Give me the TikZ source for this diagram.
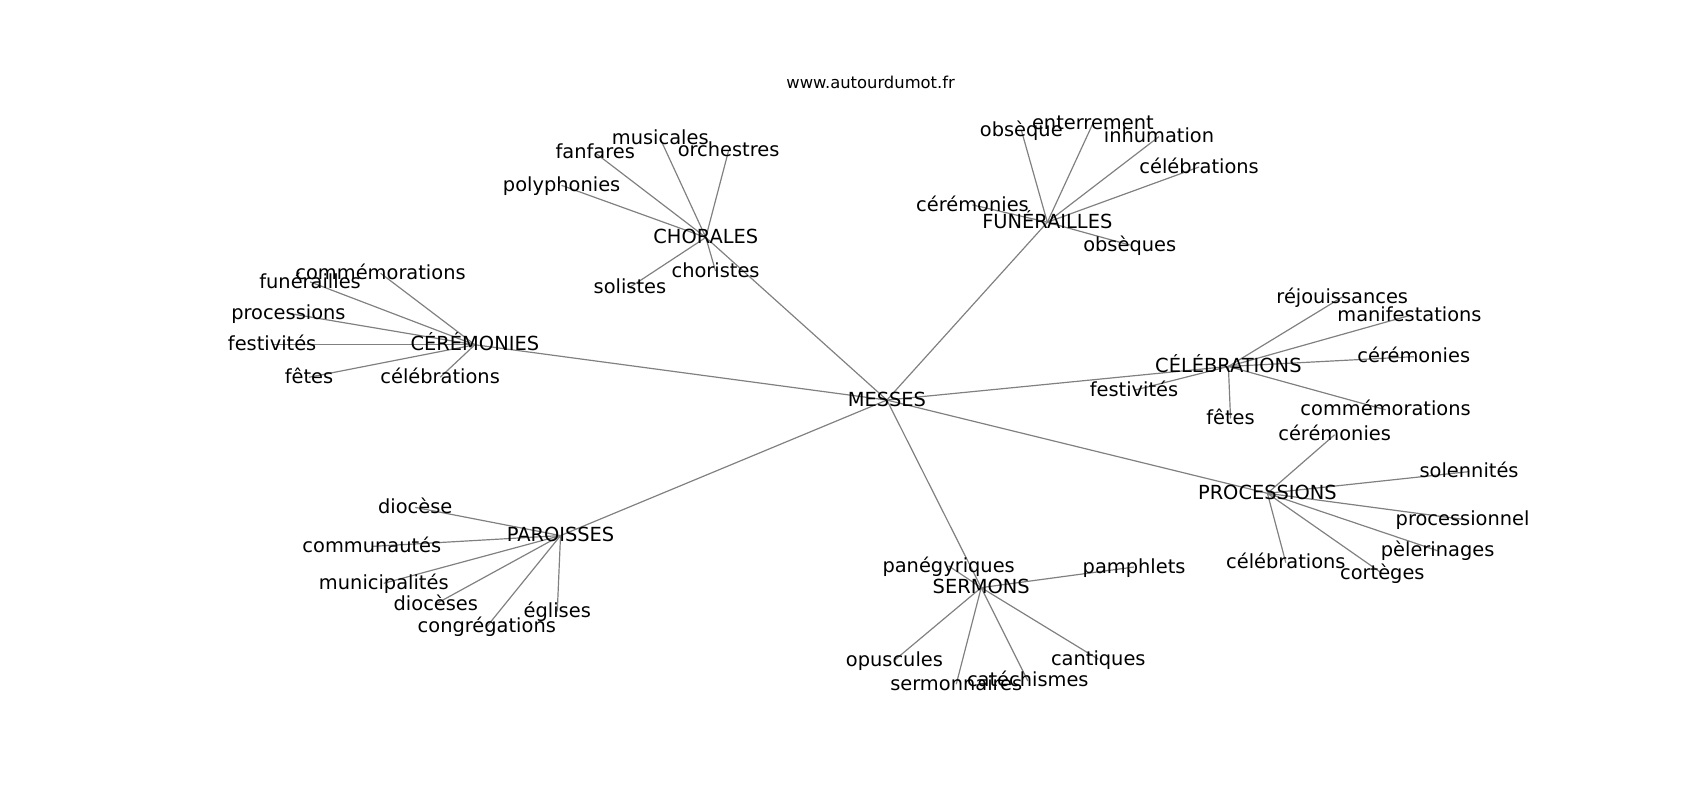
\documentclass[tikz,border=0pt]{standalone}
\usepackage{fontspec}
\setmainfont{DejaVu Sans}
\usetikzlibrary{backgrounds}
\begin{document}
\begin{tikzpicture}[x=1pt,y=-1pt,
  lbl/.style={inner sep=0pt, text height=1.22em, text depth=0.09em, font=\fontsize{17.9}{20}\selectfont, anchor=center},
  ttl/.style={inner sep=0pt, text height=1.15em, text depth=0.09em, font=\fontsize{15.1}{18}\selectfont},
  link/.style={draw=gray, line width=1.1pt}]
\useasboundingbox (0,0) rectangle (1568,737.9);
\node[ttl] (title) at (803,76) {www.autourdumot.fr};
% hubs
\node[lbl] (mes) at (818,369) {MESSES};
\node[lbl] (cho) at (651,219) {CHORALES};
\node[lbl] (fun) at (966,205) {FUNÉRAILLES};
\node[lbl] (cer) at (438,318) {CÉRÉMONIES};
\node[lbl] (cel) at (1133,338) {CÉLÉBRATIONS};
\node[lbl] (par) at (517,494) {PAROISSES};
\node[lbl] (ser) at (905,542) {SERMONS};
\node[lbl] (pro) at (1169,455) {PROCESSIONS};
% chorales
\node[lbl] (cho1) at (609,128) {musicales};
\node[lbl] (cho2) at (549,141) {fanfares};
\node[lbl] (cho3) at (672,139) {orchestres};
\node[lbl] (cho4) at (518,171) {polyphonies};
\node[lbl] (cho5) at (581,265) {solistes};
\node[lbl] (cho6) at (660,250) {choristes};
% funerailles
\node[lbl] (fun1) at (942,120) {obsèque};
\node[lbl] (fun2) at (1008,114) {enterrement};
\node[lbl] (fun3) at (1069,126) {inhumation};
\node[lbl] (fun4) at (1106,154) {célébrations};
\node[lbl] (fun5) at (897,189) {cérémonies};
\node[lbl] (fun6) at (1042,226) {obsèques};
% ceremonies
\node[lbl] (cer1) at (351,252) {commémorations};
\node[lbl] (cer2) at (286,260) {funérailles};
\node[lbl] (cer3) at (266,289) {processions};
\node[lbl] (cer4) at (251,318) {festivités};
\node[lbl] (cer5) at (285,348) {fêtes};
\node[lbl] (cer6) at (406,348) {célébrations};
% celebrations
\node[lbl] (cel1) at (1238,274) {réjouissances};
\node[lbl] (cel2) at (1300,291) {manifestations};
\node[lbl] (cel3) at (1304,329) {cérémonies};
\node[lbl] (cel4) at (1046,360) {festivités};
\node[lbl] (cel5) at (1135,386) {fêtes};
\node[lbl] (cel6) at (1278,378) {commémorations};
% processions
\node[lbl] (pro1) at (1231,401) {cérémonies};
\node[lbl] (pro2) at (1355,435) {solennités};
\node[lbl] (pro3) at (1349,479) {processionnel};
\node[lbl] (pro4) at (1326,508) {pèlerinages};
\node[lbl] (pro5) at (1186,519) {célébrations};
\node[lbl] (pro6) at (1275,529) {cortèges};
% paroisses
\node[lbl] (par1) at (383,468) {diocèse};
\node[lbl] (par2) at (343,504) {communautés};
\node[lbl] (par3) at (354,538) {municipalités};
\node[lbl] (par4) at (402,557) {diocèses};
\node[lbl] (par5) at (449,578) {congrégations};
\node[lbl] (par6) at (514,564) {églises};
% sermons
\node[lbl] (ser1) at (875,522) {panégyriques};
\node[lbl] (ser2) at (1046,523) {pamphlets};
\node[lbl] (ser3) at (825,609) {opuscules};
\node[lbl] (ser4) at (882,631) {sermonnaires};
\node[lbl] (ser5) at (948,628) {catéchismes};
\node[lbl] (ser6) at (1013,608) {cantiques};
\begin{pgfonlayer}{background}
\foreach \h in {cho,fun,cer,cel,par,ser,pro}
  \draw[link] (mes.center) -- (\h.center);
\foreach \h in {cho,fun,cer,cel,par,ser,pro}
  \foreach \i in {1,...,6}
    \draw[link] (\h.center) -- (\h\i.center);
\end{pgfonlayer}
\end{tikzpicture}
\end{document}
